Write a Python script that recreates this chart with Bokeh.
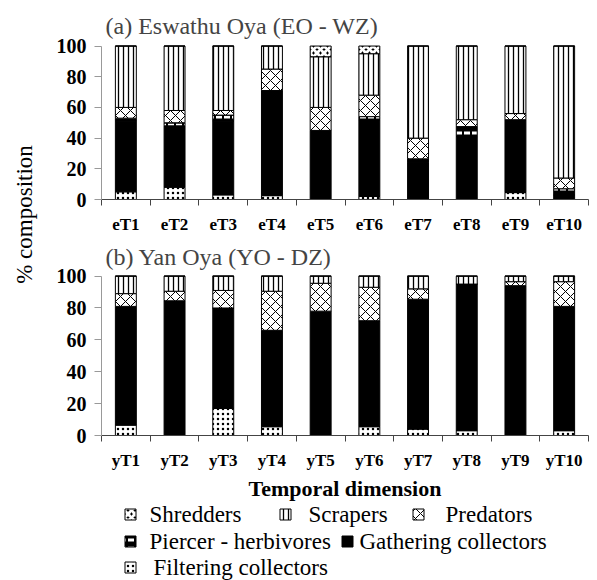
from math import pi
from bokeh.plotting import figure
from bokeh.models import Range1d, FixedTicker, ColumnDataSource, Label
from bokeh.layouts import row, column
from bokeh.transform import stack
from bokeh.embed import file_html
from bokeh.resources import INLINE
from bokeh.core.properties import value

SERIF = "Liberation Serif"

# ---------------- data ----------------
stack_order = ["Filtering collectors", "Gathering collectors", "Piercer - herbivores",
               "Predators", "Scrapers", "Shredders"]

categories_a = ["eT1", "eT2", "eT3", "eT4", "eT5", "eT6", "eT7", "eT8", "eT9", "eT10"]
filtering_a = [5, 8, 3, 2.5, 0, 2, 0, 0, 4.5, 0]
gathering_a = [46, 40, 48, 68.5, 45, 50, 24, 41, 47.5, 3]
piercer_a = [2, 2, 4, 0, 0, 2, 2.5, 6.5, 0, 4]
predators_a = [7, 8, 3, 14, 15, 14, 13.5, 4.5, 4, 7]
scrapers_a = [40, 42, 42, 15, 33, 27, 60, 48, 44, 86]
shredders_a = [0, 0, 0, 0, 7, 5, 0, 0, 0, 0]

categories_b = ["yT1", "yT2", "yT3", "yT4", "yT5", "yT6", "yT7", "yT8", "yT9", "yT10"]
filtering_b = [6.5, 0, 17, 5.5, 0, 5.5, 4, 3, 0, 3]
gathering_b = [74.5, 84.5, 63, 60.5, 78, 66.5, 81.5, 92, 94, 78]
piercer_b = [0, 0, 0, 0, 0, 0, 0, 0, 0, 0]
predators_b = [8, 6, 11, 24.5, 17.5, 21, 6.5, 0, 2.5, 15.5]
scrapers_b = [11, 9.5, 9, 9.5, 4.5, 7, 8, 5, 3.5, 3.5]
shredders_b = [0, 0, 0, 0, 0, 0, 0, 0, 0, 0]

y_ticks = [0, 20, 40, 60, 80, 100]

title_a = "(a) Eswathu Oya  (EO - WZ)"
title_b = "(b) Yan Oya  (YO - DZ)"
y_label = "% composition"
x_label = "Temporal dimension"

legend_rows = [["Shredders", "Scrapers", "Predators"],
               ["Piercer - herbivores", "Gathering collectors"],
               ["Filtering collectors"]]

# ---------------- styles ----------------
styles = {
    "Filtering collectors": dict(fill_color="white", hatch_pattern="dot", hatch_color="black",
                                 hatch_scale=5, hatch_weight=2),
    "Gathering collectors": dict(fill_color="black"),
    "Piercer - herbivores": dict(fill_color="black", hatch_pattern="horizontal_dash",
                                 hatch_color="white", hatch_scale=8, hatch_weight=3),
    "Predators": dict(fill_color="white", hatch_pattern="diagonal_cross", hatch_color="black",
                      hatch_scale=10, hatch_weight=1),
    "Scrapers": dict(fill_color="white", hatch_pattern="vertical_line", hatch_color="black",
                     hatch_scale=5, hatch_weight=1.3),
    "Shredders": dict(fill_color="black", hatch_pattern="diagonal_cross", hatch_color="white",
                      hatch_scale=7, hatch_weight=3),
}

# layout (page pixels; the page has no margin)
LAB_W = 40
COL_W = 597 - LAB_W
BORDER_L = 61          # frame left at x = 101
BORDER_R = 9           # frame right at x = 588
FA_H, FB_H = 236, 267
LEG_H = 580 - FA_H - FB_H


def make_panel(cats, vals, title, height, mb_top, mb_bottom, title_standoff, xlabel=None):
    xs = list(range(1, len(cats) + 1))
    data = {"x": xs, "cat": cats}
    for name, v in zip(stack_order, vals):
        data[name] = v
    src = ColumnDataSource(data)
    p = figure(width=COL_W, height=height, x_range=Range1d(0.5, len(cats) + 0.5),
               y_range=Range1d(0, 101), output_backend="svg", toolbar_location=None,
               min_border_left=BORDER_L, min_border_right=BORDER_R, min_border_top=mb_top,
               min_border_bottom=mb_bottom, title=title)
    for i, name in enumerate(stack_order):
        bottom = stack(*stack_order[:i]) if i > 0 else 0
        p.vbar(x="x", width=0.43, bottom=bottom, top=stack(*stack_order[:i + 1]),
               source=src, line_color="black", line_width=1, **styles[name])

    p.title.text_font = SERIF
    p.title.text_font_size = "24px"
    p.title.text_font_style = "normal"
    p.title.align = "left"
    p.title.offset = 4
    p.title.standoff = title_standoff

    p.xaxis.ticker = FixedTicker(ticks=xs, minor_ticks=[x - 0.5 for x in xs] + [xs[-1] + 0.5])
    p.xaxis.major_label_overrides = {x: c for x, c in zip(xs, cats)}
    p.xaxis.major_tick_out = 0
    p.xaxis.major_tick_in = 0
    p.xaxis.minor_tick_out = 6
    p.xaxis.minor_tick_in = 0
    p.xaxis.axis_line_color = "#444444"
    p.xaxis.minor_tick_line_color = "#444444"
    p.xaxis.major_label_standoff = 9
    p.xaxis.major_label_text_font_size = "17px"

    p.yaxis.ticker = FixedTicker(ticks=y_ticks)
    p.yaxis.bounds = (0, 100)
    p.yaxis.minor_tick_line_color = None
    p.yaxis.major_tick_out = 7
    p.yaxis.major_tick_in = 0
    p.yaxis.axis_line_color = "#999999"
    p.yaxis.major_tick_line_color = "#999999"
    p.yaxis.major_label_standoff = 8
    p.yaxis.major_label_text_font_size = "20px"

    p.axis.major_label_text_font = SERIF
    p.axis.major_label_text_font_style = "bold"
    p.axis.major_label_text_color = "black"

    if xlabel:
        p.xaxis.axis_label = xlabel
        p.xaxis.axis_label_text_font = SERIF
        p.xaxis.axis_label_text_font_style = "bold"
        p.xaxis.axis_label_text_font_size = "22px"
        p.xaxis.axis_label_standoff = 3
        p.xaxis.axis_label_text_color = "black"

    p.grid.visible = False
    p.outline_line_color = None
    return p


fa = make_panel(categories_a,
                [filtering_a, gathering_a, piercer_a, predators_a, scrapers_a, shredders_a],
                title_a, FA_H, 44, 30, 12)
fb = make_panel(categories_b,
                [filtering_b, gathering_b, piercer_b, predators_b, scrapers_b, shredders_b],
                title_b, FB_H, 38, 61, 9, xlabel=x_label)

# ---------------- y label (own narrow canvas, pixel coordinates) ----------------
lab = figure(width=LAB_W, height=580, x_range=Range1d(0, LAB_W), y_range=Range1d(0, 580),
             output_backend="svg", toolbar_location=None, min_border=0,
             x_axis_location=None, y_axis_location=None)
lab.grid.visible = False
lab.outline_line_color = None
lab.add_layout(Label(x=24, y=580 - 214, text=y_label, angle=pi / 2, text_font=SERIF,
                     text_font_size="23px", text_align="center", text_baseline="middle",
                     text_color="black"))

# ---------------- legend (canvas aligned with the panels, page x coordinates) ----------------
leg = figure(width=COL_W, height=LEG_H, x_range=Range1d(101, 588), y_range=Range1d(0, LEG_H),
             output_backend="svg", toolbar_location=None, min_border_left=BORDER_L,
             min_border_right=BORDER_R, min_border_top=0, min_border_bottom=0,
             x_axis_location=None, y_axis_location=None)
leg.grid.visible = False
leg.outline_line_color = None

row_page_y = [514, 541, 567]
swatch_x = {"Shredders": 130, "Scrapers": 285, "Predators": 418,
            "Piercer - herbivores": 130, "Gathering collectors": 347,
            "Filtering collectors": 130}
text_x = {"Shredders": 149, "Scrapers": 308, "Predators": 445,
          "Piercer - herbivores": 149, "Gathering collectors": 359,
          "Filtering collectors": 153}
for py, names in zip(row_page_y, legend_rows):
    ry = 580 - py
    for name in names:
        leg.rect(x=[swatch_x[name]], y=[ry], width=11, height=11, line_color="black",
                 line_width=1, **styles[name])
        leg.text(x=[text_x[name]], y=[ry], text=[name], text_font=value(SERIF),
                 text_font_size="23px", text_baseline="middle", text_align="left",
                 text_color="black")

layout = row(lab, column(fa, fb, leg))

with open("out.html", "w") as f:
    f.write(file_html(layout, INLINE))
